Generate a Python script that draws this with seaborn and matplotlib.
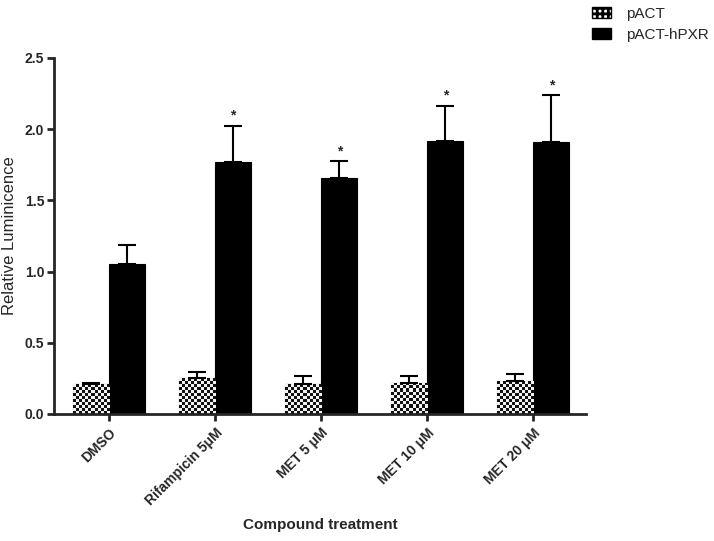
import numpy as np
import pandas as pd
import matplotlib
matplotlib.use("Agg")
import matplotlib.pyplot as plt
from matplotlib.colors import ListedColormap
from matplotlib.patches import Patch
import seaborn as sns

# Data
categories = ["DMSO", "Rifampicin 5\u03bcM", "MET 5 \u03bcM", "MET 10 \u03bcM", "MET 20 \u03bcM"]
pact_mean = [0.21, 0.25, 0.21, 0.22, 0.23]
pact_err = [0.01, 0.045, 0.06, 0.05, 0.05]
hpxr_mean = [1.05, 1.77, 1.655, 1.915, 1.91]
hpxr_err = [0.135, 0.255, 0.12, 0.25, 0.33]
significant = [False, True, True, True, True]
series = ["pACT", "pACT-hPXR"]

sns.set_style("ticks")
plt.rcParams["font.family"] = ["Liberation Sans", "DejaVu Sans"]
plt.rcParams["hatch.linewidth"] = 2.0

df = pd.DataFrame({
    "treatment": categories * 2,
    "construct": [series[0]] * len(categories) + [series[1]] * len(categories),
    "value": pact_mean + hpxr_mean,
})

fig = plt.figure(figsize=(7.14, 5.41), dpi=100)
ax = fig.add_axes([0.0756, 0.2348, 0.7455, 0.658])

sns.barplot(data=df, x="treatment", y="value", hue="construct",
            palette={"pACT": "white", "pACT-hPXR": "black"},
            width=0.68, errorbar=None, edgecolor="black", linewidth=0.8,
            legend=False, ax=ax)

ax.set_ylim(0, 2.5)
ax.set_xlim(-0.52, 4.5)

# checkerboard fill for pACT bars (image clipped to each bar)
checker_cmap = ListedColormap(["#111111", "#f2f2f2"])
cell_px = 3.0
for bar in ax.containers[0]:
    x0, y0 = bar.get_x(), bar.get_y()
    x1, y1 = x0 + bar.get_width(), y0 + bar.get_height()
    (px0, py0), (px1, py1) = ax.transData.transform([(x0, y0), (x1, y1)])
    nx = max(1, int(round((px1 - px0) / cell_px)))
    ny = max(1, int(round((py1 - py0) / cell_px)))
    board = np.indices((ny, nx)).sum(axis=0) % 2
    im = ax.imshow(board, cmap=checker_cmap, extent=[x0, x1, y0, y1],
                   aspect="auto", interpolation="nearest", origin="lower",
                   zorder=bar.get_zorder() + 0.1)
    im.set_clip_path(bar)
ax.set_ylim(0, 2.5)
ax.set_xlim(-0.52, 4.5)

# upper-only error bars + significance stars
for cont, means, errs in [(ax.containers[0], pact_mean, pact_err),
                          (ax.containers[1], hpxr_mean, hpxr_err)]:
    xs = [b.get_x() + b.get_width() / 2 for b in cont]
    ax.errorbar(xs, means, yerr=[np.zeros(len(errs)), errs], fmt="none",
                ecolor="black", elinewidth=1.5, capsize=6.5, capthick=1.5, zorder=3)

xs_h = [b.get_x() + b.get_width() / 2 for b in ax.containers[1]]
for x, m, e, s in zip(xs_h, hpxr_mean, hpxr_err, significant):
    if s:
        ax.text(x, m + e + 0.02, "*", ha="center", va="bottom",
                fontsize=10, fontweight="bold")

ax.set_yticks([0.0, 0.5, 1.0, 1.5, 2.0, 2.5])
ax.set_yticklabels(["0.0", "0.5", "1.0", "1.5", "2.0", "2.5"])
ax.set_xticks(range(len(categories)))
ax.set_xticklabels(categories, rotation=45, ha="right", rotation_mode="anchor")
ax.tick_params(axis="both", width=2, length=5, labelsize=10)
ax.tick_params(axis="y", pad=2)
for lab in ax.get_xticklabels() + ax.get_yticklabels():
    lab.set_fontweight("bold")

sns.despine(ax=ax)
for sp in ["left", "bottom"]:
    ax.spines[sp].set_linewidth(2)

ax.set_xlabel("Compound treatment", fontsize=11, fontweight="bold")
ax.xaxis.set_label_coords(0.5, -0.292)
ax.set_ylabel("Relative Luminicence", fontsize=12)
ax.yaxis.set_label_coords(-0.0695, 0.5)

handles = [Patch(facecolor="white", edgecolor="black", hatch="+++", label="pACT"),
           Patch(facecolor="black", edgecolor="black", label="pACT-hPXR")]
fig.legend(handles=handles, loc="upper right", bbox_to_anchor=(1.012, 1.013),
           frameon=False, fontsize=11, handlelength=1.2, handleheight=0.8,
           handletextpad=1.0, labelspacing=0.45)

fig.savefig("out.png", dpi=100)
